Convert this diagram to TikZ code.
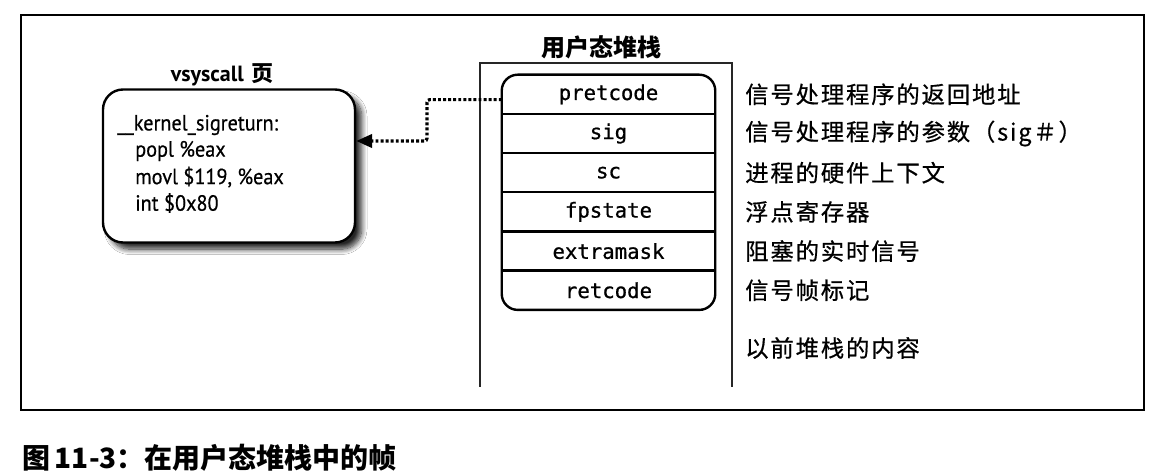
\documentclass[tikz,border=0pt]{standalone}
\usepackage{fontspec}
\usetikzlibrary{arrows.meta,shadows.blur,positioning}
\newfontfamily\cjk{Noto Sans CJK SC}
\newfontfamily\cjklab[LetterSpace=8,FakeBold=0.6]{Noto Sans CJK SC}
\newfontfamily\ptsans{PT Sans}
\newfontfamily\ptcode[FakeBold=0.5,FakeStretch=0.92]{PT Sans}
\newfontfamily\stackmono[FakeBold=0.8]{DejaVu Sans Mono}
\tikzset{
  frame/.style={draw=black, line width=1.5pt},
  column/.style={draw=black!85, line width=0.8pt},
  row/.style={inner sep=0pt, minimum width=159.75pt, minimum height=29pt,
    font=\stackmono\fontsize{15.5pt}{17pt}\selectfont},
  stackbox/.style={draw=black, line width=1.8pt, rounded corners=12pt},
  divider/.style={draw=black, line width=1.8pt},
  lbl/.style={anchor=west, inner sep=0pt, font=\cjklab\fontsize{17.5pt}{20pt}\selectfont},
  title/.style={inner sep=0pt, font=\cjk\bfseries\fontsize{18pt}{20pt}\selectfont},
  vsbox/.style={draw=black, line width=1.8pt, rounded corners=15pt, fill=white,
    blur shadow={shadow xshift=5pt, shadow yshift=-5pt, shadow blur steps=10,
      shadow blur radius=4pt, shadow opacity=85}},
  code/.style={anchor=west, inner sep=0pt, font=\ptcode\fontsize{16.5pt}{18pt}\selectfont},
  dotarrow/.style={line width=2.4pt, dash pattern=on 2.2pt off 1.6pt, rounded corners=2pt,
    -{Triangle[length=12pt,width=10pt]}},
}
\begin{document}
\begin{tikzpicture}[x=0.75pt, y=-0.75pt]
\useasboundingbox[fill=white] (0,0) rectangle (1164,473);

% outer frame
\draw[frame] (21,15) rectangle (1144,410);

% user stack column
\draw[column] (480,387) -- (480,63) -- (732,63) -- (732,387);
\node[title] (ustitle) at (601,47) {用户态堆栈};

% stack rows
\node[row] (r1) at (608.5,94.3) {pretcode};
\node[row, anchor=north] (r2) at (r1.south) {sig};
\node[row, anchor=north] (r3) at (r2.south) {sc};
\node[row, anchor=north] (r4) at (r3.south) {fpstate};
\node[row, anchor=north] (r5) at (r4.south) {extramask};
\node[row, anchor=north] (r6) at (r5.south) {retcode};
\draw[stackbox] (r1.north west) rectangle (r6.south east);
\foreach \r in {r1,r2,r3,r4,r5}{
  \draw[divider] (\r.south west) -- (\r.south east);
}

% labels
\coordinate (lx) at (745,0);
\node[lbl] (l1) at (lx |- r1) {信号处理程序的返回地址};
\node[lbl] (l2) at (lx |- r2) {信号处理程序的参数（sig＃）};
\node[lbl] (l3) at (lx |- r3) {进程的硬件上下文};
\node[lbl] (l4) at (lx |- r4) {浮点寄存器};
\node[lbl] (l5) at (lx |- r5) {阻塞的实时信号};
\node[lbl] (l6) at (lx |- r6) {信号帧标记};
\coordinate (l7pos) at (745,348);
\node[lbl] (l7) at (l7pos) {以前堆栈的内容};

% vsyscall page
\node[inner sep=0pt, font=\ptsans\bfseries\fontsize{16.5pt}{18pt}\selectfont] (vstitle) at (222,75)
  {vsyscall\,\,{\cjk\bfseries 页}};
\node[vsbox, minimum width=189pt, minimum height=114.75pt] (vs) at (229,166) {};
\node[code] (c1) at (117,125) {\_\_kernel\_sigreturn:};
\node[code] (c2) at (135,151) {popl \%eax};
\node[code] (c3) at (135,177) {movl \$119, \%eax};
\node[code] (c4) at (135,203) {int \$0x80};

% dotted connector
\coordinate (bend) at (427,141);
\draw[dotarrow] ([yshift=-4pt]r1.west) -| (bend) -- (bend -| vs.east);

% caption
\node[anchor=west, inner sep=0pt, font=\cjk\bfseries\fontsize{21pt}{24pt}\selectfont] (cap) at (22,458)
  {图\,11-3：在用户态堆栈中的帧};
\end{tikzpicture}
\end{document}
